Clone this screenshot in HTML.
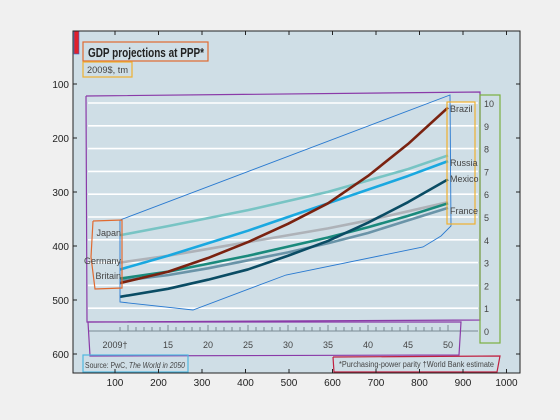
<!DOCTYPE html>
<html><head><meta charset="utf-8"><style>
html,body{margin:0;padding:0;background:#f0f0f0;}
svg{display:block;font-family:"Liberation Sans",sans-serif;}
.c{font-family:"Liberation Sans",sans-serif;fill:#333;}
</style></head><body>
<svg id="s" width="560" height="420" viewBox="0 0 560 420">
<rect x="0" y="0" width="560" height="420" fill="#f0f0f0"/>
<rect x="73" y="31" width="447" height="342" fill="#cfdee6"/>
<g id="grid"></g>
<g id="inner"></g>
<g id="series"></g>
<g id="annot" fill="none" stroke-width="1.2">
<rect x="74" y="31" width="5" height="23" fill="#e0202a" stroke="#2a6ad0" stroke-width="0.6"/>
<rect x="83" y="42" width="125" height="19" stroke="#e06a30"/>
<rect x="83" y="62" width="49" height="15" stroke="#f0b030"/>
<polyline points="86,96 480,92 480,320 87,322 86,96" stroke="#8a3aa8"/>
<polyline points="120,220 450,95 451,226 441,236 423,247 286,275 193,310 120,302 120,220" stroke="#2a7ad0" stroke-width="0.9"/>
<polyline points="93,221 122,220 122,288 95,289 91,257 93,221" stroke="#e06a30"/>
<rect x="447" y="102" width="28" height="122" stroke="#f0b030"/>
<rect x="480" y="95" width="20" height="248" stroke="#7ab040"/>
<polyline points="88,322 461,322 459,355 90,356 88,322" stroke="#8a3aa8"/>
<rect x="83" y="355" width="105" height="17" stroke="#50b8e0"/>
<polyline points="333,357 500,356 497,372 334,372 333,357" stroke="#c02040"/>
</g>
<g class="c">
<text x="88" y="57" font-size="12.5" font-weight="bold" fill="#222" textLength="116" lengthAdjust="spacingAndGlyphs">GDP projections at PPP*</text>
<text x="87" y="73" font-size="9" fill="#444" textLength="41" lengthAdjust="spacingAndGlyphs">2009$, tm</text>
<text x="85" y="368" font-size="8" fill="#444" textLength="100" lengthAdjust="spacingAndGlyphs">Source: PwC, <tspan font-style="italic">The World in 2050</tspan></text>
<text x="339" y="367" font-size="8" fill="#444" textLength="155" lengthAdjust="spacingAndGlyphs">*Purchasing-power parity   †World Bank estimate</text>
<text x="121" y="236" font-size="9" text-anchor="end" fill="#444">Japan</text>
<text x="121" y="264" font-size="9" text-anchor="end" fill="#444">Germany</text>
<text x="121" y="279" font-size="9" text-anchor="end" fill="#444">Britain</text>
<text x="450" y="112" font-size="9" fill="#444">Brazil</text>
<text x="450" y="166" font-size="9" fill="#444">Russia</text>
<text x="450" y="182" font-size="9" fill="#444">Mexico</text>
<text x="450" y="214" font-size="9" fill="#444">France</text>
</g>
<g id="outer"></g>
</svg>
<script>
const years=[2009,2015,2020,2025,2030,2035,2040,2045,2050];
const brazil=[2.1,2.6,3.2,3.9,4.7,5.6,6.8,8.2,9.8];
const russia=[2.7,3.3,3.85,4.4,5.0,5.6,6.2,6.8,7.45];
const japan=[4.2,4.6,4.95,5.3,5.7,6.1,6.6,7.1,7.7];
const mexico=[1.5,1.85,2.25,2.7,3.3,3.95,4.75,5.65,6.65];
const germany=[3.0,3.3,3.6,3.9,4.2,4.5,4.85,5.25,5.65];
const britain=[2.3,2.6,2.95,3.3,3.7,4.1,4.55,5.05,5.6];
const france=[2.2,2.45,2.75,3.1,3.45,3.85,4.3,4.85,5.4];
const innerYTicks=[0,1,2,3,4,5,6,7,8,9,10];
const innerXLabels=["2009†","15","20","25","30","35","40","45","50"];
const innerXLabelYears=[2009,2015,2020,2025,2030,2035,2040,2045,2050];
const outerXTicks=[100,200,300,400,500,600,700,800,900,1000];
const outerYTicks=[100,200,300,400,500,600];
const NS="http://www.w3.org/2000/svg";
const X=y=>120+(y-2009)*8, Y=v=>331-22.8*v;
const OX=v=>71.5+0.435*v, OY=v=>30+0.54*v;
function mk(t,a,p){const e=document.createElementNS(NS,t);for(const k in a)e.setAttribute(k,a[k]);p.appendChild(e);return e;}
const grid=document.getElementById('grid'),inner=document.getElementById('inner'),ser=document.getElementById('series'),outer=document.getElementById('outer');
innerYTicks.forEach(v=>{
 if(v>0){const l=mk('line',{x1:88,x2:478,y1:Y(v),y2:Y(v),stroke:'#fff','stroke-width':1.6},grid);
 
 }
 const t=mk('text',{x:484,y:Y(v)+4,'font-size':9,fill:'#444'},inner);t.textContent=v;
 
 
});
const ax=mk('line',{x1:88,x2:478,y1:331,y2:331,stroke:'#7a8a94','stroke-width':1},inner);


for(let y=2009;y<=2050;y++){const l=mk('line',{x1:X(y),x2:X(y),y1:331,y2:y%5==0?325:327,stroke:'#7a8a94'},inner);
 
 }
innerXLabels.forEach((s,i)=>{const t=mk('text',{x:X(innerXLabelYears[i])-(i==0?5:0),y:348,'font-size':9,fill:'#444','text-anchor':'middle'},inner);t.textContent=s;
 
 });
const S=[["germany",germany,"#aeb2b8"],["japan",japan,"#78c4c4"],["france",france,"#6a94a8"],["britain",britain,"#1a8a7c"],["russia",russia,"#1aa8e0"],["mexico",mexico,"#0a4c64"],["brazil",brazil,"#7a2210"]];
S.forEach(([n,d,c])=>{const p=mk('polyline',{points:d.map((v,i)=>X(years[i])+','+Y(v)).join(' '),fill:'none',stroke:c,'stroke-width':2.6,'stroke-linejoin':'round'},ser);
 
 });
const fr=mk('rect',{x:73,y:31,width:447,height:342,fill:'none',stroke:'#222','stroke-width':1},outer);


outerXTicks.forEach(v=>{mk('line',{x1:OX(v),x2:OX(v),y1:373,y2:369,stroke:'#222'},outer);mk('line',{x1:OX(v),x2:OX(v),y1:31,y2:35,stroke:'#222'},outer);
 const t=mk('text',{x:OX(v),y:386,'font-size':10,fill:'#222','text-anchor':'middle'},outer);t.textContent=v;
 
 });
outerYTicks.forEach(v=>{mk('line',{x1:73,x2:77,y1:OY(v),y2:OY(v),stroke:'#222'},outer);mk('line',{x1:520,x2:516,y1:OY(v),y2:OY(v),stroke:'#222'},outer);
 const t=mk('text',{x:69,y:OY(v)+4,'font-size':10,fill:'#222','text-anchor':'end'},outer);t.textContent=v;
 
 });
</script>
</body></html>
